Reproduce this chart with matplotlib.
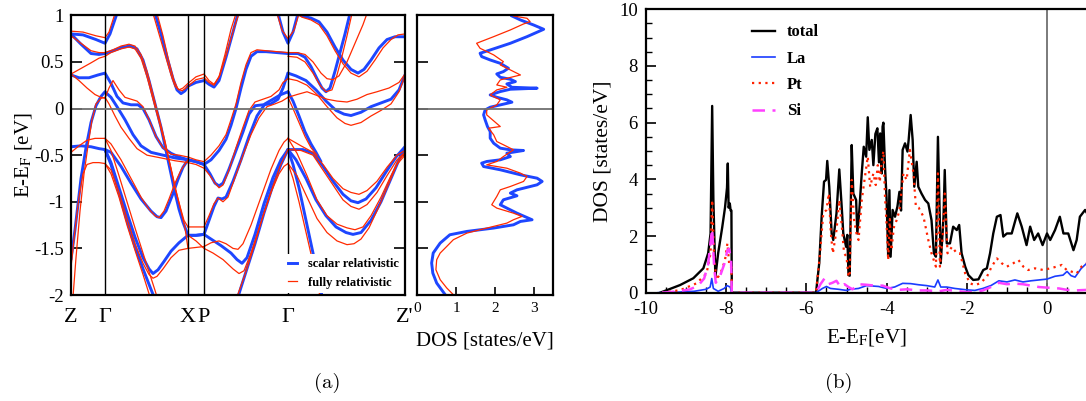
import numpy as np
import matplotlib.pyplot as plt
from matplotlib.lines import Line2D
from matplotlib.ticker import MultipleLocator

plt.rcParams['font.family'] = ['Liberation Serif', 'DejaVu Serif']
plt.rcParams['mathtext.fontset'] = 'stix'
plt.rcParams['axes.unicode_minus'] = False

BLUE = '#1e46ff'
RED = '#ff2a00'

# k-path (position along path) and labels
k_points = [0, 34, 117, 133, 217, 334]
k_labels = ['Z', 'Γ', 'X', 'P', 'Γ', "Z'"]

# scalar relativistic bands, (k, E)
sr_bands = [
    [(0, .80), (12, .79), (25, .74), (34, .70), (39, .80), (46, 1.02)],
    [(0, .80), (10, .69), (20, .59), (28, .58), (34, .59), (42, .62), (52, .66), (60, .67), (66, .64),
     (72, .52), (78, .30), (84, .05), (90, -.20), (95, -.45), (100, -.70), (104, -.90), (108, -1.08),
     (112, -1.22), (117, -1.36)],
    [(0, .36), (8, .33), (18, .33), (27, .36), (34, .38), (40, .27), (46, .13), (52, .06), (60, .04),
     (67, .04), (72, .0), (78, -.12), (85, -.30), (92, -.42), (100, -.48), (108, -.52), (117, -.55)],
    [(0, -1.62), (4, -1.30), (10, -.75), (15, -.42), (20, -.15), (25, .03), (30, .13), (34, .18),
     (40, .12), (46, .02), (54, -.12), (62, -.28), (70, -.40), (80, -.47), (92, -.50), (104, -.53),
     (117, -.55)],
    [(0, -.41), (10, -.40), (20, -.41), (28, -.43), (34, -.44), (40, -.47), (50, -.62), (60, -.80),
     (70, -.97), (80, -1.10), (86, -1.16), (90, -1.17), (95, -1.10), (101, -.94), (107, -.76),
     (112, -.63), (117, -.55)],
    [(34, -.44), (40, -.58), (48, -.85), (56, -1.12), (64, -1.38), (72, -1.60), (78, -1.72), (82, -1.77),
     (87, -1.73), (93, -1.64), (100, -1.53), (108, -1.44), (117, -1.36)],
    [(34, -.44), (40, -.60), (48, -.90), (56, -1.20), (64, -1.48), (72, -1.72), (80, -1.94), (83, -2.02)],
    [(84, 1.02), (90, .80), (96, .55), (102, .32), (106, .20), (110, .16), (114, .19), (117, .24),
     (125, .28), (133, .30), (138, .26), (143, .23), (148, .30), (155, .55), (162, .82), (167, 1.02)],
    [(117, -.55), (125, -.57), (133, -.60), (140, -.55), (148, -.45), (155, -.33), (160, -.18), (165, 0.0),
     (170, .22), (175, .42), (180, .56), (186, .61), (195, .61), (206, .60), (217, .59)],
    [(117, -.55), (125, -.57), (133, -.60), (139, -.70), (144, -.80), (148, -.83), (152, -.80), (158, -.65),
     (165, -.45), (172, -.25), (178, -.06), (184, .03), (192, .04), (200, .05), (207, .10), (212, .22),
     (217, .38)],
    [(117, -1.36), (125, -1.36), (133, -1.35), (138, -1.20), (143, -1.05), (147, -.96), (151, -.97),
     (155, -.95), (162, -.78), (170, -.55), (178, -.30), (186, -.08), (194, .05), (202, .10), (210, .15),
     (217, .18)],
    [(117, -1.36), (125, -1.36), (133, -1.35), (140, -1.40), (150, -1.47), (160, -1.55), (166, -1.62),
     (171, -1.66), (176, -1.60), (184, -1.35), (193, -1.02), (202, -.74), (210, -.55), (217, -.44)],
    [(167, -2.02), (175, -1.75), (184, -1.45), (193, -1.12), (202, -.82), (210, -.60), (217, -.44)],
    [(207, 1.02), (212, .82), (217, .70), (222, .82), (227, 1.02)],
    [(226, 1.02), (232, .99), (240, .97), (248, .93), (256, .82), (264, .66), (272, .52), (280, .42),
     (287, .38), (293, .42), (300, .52), (308, .65), (316, .74), (324, .77), (334, .77)],
    [(217, .59), (227, .59), (234, .55), (240, .45), (246, .32), (251, .22), (255, .18), (259, .22),
     (264, .40), (269, .60), (274, .80), (279, 1.02)],
    [(217, .38), (225, .35), (235, .30), (245, .20), (255, .08), (265, -.02), (273, -.06), (280, -.075),
     (290, -.04), (300, .02), (310, .06), (320, .10), (328, .20), (334, .36)],
    [(217, .18), (222, .08), (228, -.08), (234, -.25), (240, -.38), (245, -.47), (250, -.57)],
    [(217, -.44), (232, -.44), (242, -.48), (252, -.62), (262, -.78), (272, -.92), (280, -.99),
     (287, -1.01), (295, -.97), (305, -.85), (315, -.68), (325, -.52), (334, -.41)],
    [(217, -.44), (225, -.55), (235, -.75), (245, -.98), (255, -1.15), (265, -1.27), (275, -1.33),
     (282, -1.35), (290, -1.33), (300, -1.20), (310, -1.00), (320, -.75), (328, -.55), (334, -.42)],
    [(217, -.44), (222, -.60), (228, -.85), (234, -1.15), (240, -1.45), (245, -1.70), (250, -1.95),
     (251, -2.02)],
]

# fully relativistic bands, (k, E)
fr_bands = [
    [(0, .83), (12, .82), (25, .78), (34, .76), (38, .82), (44, 1.02)],
    [(0, .78), (10, .70), (20, .62), (28, .60), (34, .60), (42, .63), (50, .67), (58, .69), (64, .67),
     (70, .58), (76, .40), (82, .15), (88, -.10), (94, -.35), (99, -.60), (104, -.85), (109, -1.05),
     (113, -1.20), (117, -1.27)],
    [(0, .37), (10, .43), (20, .49), (28, .54), (34, .56), (40, .60), (50, .64), (58, .66), (64, .64),
     (70, .54), (76, .34), (82, .10), (88, -.14), (94, -.38), (100, -.64), (105, -.88), (110, -1.10),
     (114, -1.28), (117, -1.50)],
    [(0, .37), (8, .30), (16, .22), (24, .15), (30, .12), (34, .11), (38, .22), (42, .30), (48, .20),
     (54, .12), (60, .10), (66, .08), (72, .02), (78, -.12), (85, -.30), (92, -.42), (100, -.49),
     (108, -.50), (117, -.52)],
    [(2, -2.02), (5, -1.60), (9, -1.10), (13, -.70), (17, -.40), (21, -.12), (25, .05), (30, .11),
     (34, .12), (38, .05), (44, -.08), (50, -.20), (58, -.32), (66, -.43), (76, -.50), (90, -.53),
     (104, -.56), (117, -.58)],
    [(0, -.47), (8, -.40), (16, -.34), (24, -.32), (34, -.32), (40, -.38), (50, -.55), (60, -.75),
     (70, -.95), (78, -1.08), (84, -1.15), (88, -1.17), (93, -1.10), (98, -.97), (104, -.80),
     (110, -.66), (117, -.55)],
    [(0, -1.70), (4, -1.30), (8, -.95), (12, -.70), (16, -.60), (22, -.58), (28, -.58), (34, -.59),
     (40, -.66), (48, -.90), (56, -1.18), (64, -1.45), (72, -1.66), (78, -1.78), (82, -1.82),
     (86, -1.80), (92, -1.72), (100, -1.60), (108, -1.52), (117, -1.50)],
    [(34, -.59), (40, -.70), (48, -.95), (56, -1.25), (64, -1.52), (72, -1.78), (79, -2.02)],
    [(34, -.32), (40, -.45), (48, -.72), (56, -1.00), (64, -1.28), (72, -1.55), (78, -1.75),
     (84, -1.95), (86, -2.02)],
    [(82, 1.02), (88, .80), (94, .58), (100, .36), (104, .24), (108, .20), (112, .22), (117, .27),
     (125, .34), (133, .37), (138, .30), (143, .26), (148, .34), (154, .58), (160, .85), (165, 1.02)],
    [(86, 1.02), (92, .78), (98, .50), (103, .30), (107, .21), (111, .19), (115, .22), (117, .24),
     (125, .31), (133, .33), (138, .28), (143, .25), (149, .36), (156, .60), (163, .86), (168, 1.02)],
    [(117, -.52), (125, -.55), (133, -.57), (140, -.50), (148, -.40), (155, -.28), (160, -.12),
     (165, .05), (170, .28), (175, .47), (180, .60), (186, .63), (195, .62), (206, .61), (217, .60)],
    [(117, -.58), (125, -.60), (133, -.64), (139, -.72), (144, -.80), (148, -.85), (152, -.82),
     (158, -.66), (165, -.42), (172, -.20), (178, -.02), (184, .07), (192, .10), (200, .13),
     (208, .20), (212, .28), (217, .32)],
    [(117, -1.27), (125, -1.27), (133, -1.27), (138, -1.15), (143, -1.02), (147, -.96), (152, -1.00),
     (157, -.95), (164, -.74), (172, -.50), (180, -.28), (188, -.10), (196, .02), (204, .05),
     (211, .08), (217, .12)],
    [(117, -1.50), (125, -1.49), (133, -1.48), (140, -1.44), (148, -1.42), (155, -1.45), (162, -1.50),
     (167, -1.51), (172, -1.45), (180, -1.25), (190, -.95), (200, -.65), (208, -.45), (213, -.36),
     (217, -.32)],
    [(117, -1.36), (125, -1.42), (133, -1.50), (142, -1.55), (152, -1.62), (162, -1.72), (168, -1.77),
     (173, -1.74), (180, -1.55), (190, -1.22), (200, -.90), (208, -.70), (213, -.62), (217, -.59)],
    [(166, -2.02), (174, -1.78), (183, -1.48), (192, -1.15), (201, -.86), (209, -.62), (217, -.44)],
    [(206, 1.02), (211, .84), (217, .75), (223, .84), (228, 1.02)],
    [(225, 1.02), (231, .98), (240, .95), (248, .90), (256, .78), (264, .62), (272, .48), (280, .38),
     (288, .34), (296, .40), (304, .52), (312, .65), (320, .74), (327, .79), (334, .80)],
    [(217, .60), (226, .60), (234, .58), (242, .50), (250, .38), (256, .32), (262, .31), (268, .35),
     (276, .50), (284, .70), (292, .90), (296, 1.02)],
    [(217, .56), (226, .55), (234, .50), (242, .38), (249, .25), (255, .18), (261, .20), (266, .36),
     (271, .56), (276, .78), (281, 1.02)],
    [(217, .32), (226, .30), (236, .25), (246, .15), (256, .02), (266, -.10), (274, -.16), (280, -.18),
     (290, -.15), (300, -.08), (310, -.02), (320, .05), (328, .18), (334, .35)],
    [(217, .12), (226, .15), (236, .18), (246, .14), (256, .10), (266, .08), (276, .07), (286, .10),
     (296, .15), (306, .18), (318, .22), (328, .28), (334, .37)],
    [(217, .12), (222, .0), (228, -.15), (234, -.30), (240, -.42), (246, -.50)],
    [(217, -.32), (230, -.40), (242, -.47), (252, -.60), (262, -.75), (272, -.86), (280, -.90),
     (288, -.92), (296, -.88), (306, -.78), (316, -.63), (326, -.50), (334, -.45)],
    [(217, -.44), (230, -.45), (242, -.50), (252, -.66), (262, -.82), (272, -.98), (280, -1.05),
     (288, -1.08), (296, -1.03), (306, -.90), (316, -.72), (326, -.55), (334, -.47)],
    [(217, -.32), (226, -.48), (236, -.72), (246, -.98), (256, -1.15), (266, -1.24), (276, -1.28),
     (284, -1.30), (292, -1.27), (300, -1.15), (310, -.95), (320, -.72), (328, -.55), (334, -.48)],
    [(217, -.59), (226, -.72), (236, -.95), (246, -1.18), (256, -1.33), (266, -1.42), (276, -1.46),
     (283, -1.45), (290, -1.40), (298, -1.28), (308, -1.05), (318, -.80), (326, -.60), (334, -.50)],
    [(217, -.59), (222, -.75), (228, -1.00), (234, -1.28), (240, -1.56), (245, -1.80), (249, -2.02)],
]

# DOS next to the bands (energy, states/eV)
dos_sr_e = [.993, .950, .896, .850, .771, .700, .628, .593, .557, .521, .485, .432, .396, .371, .335,
            .314, .289, .264, .228, .218, .207, .182, .146, .121, .093, .068, .039, .014, -.015, -.068,
            -.122, -.193, -.247, -.318, -.372, -.425, -.443, -.450, -.479, -.515, -.550, -.568, -.586,
            -.622, -.657, -.711, -.747, -.782, -.818, -.872, -.907, -.936, -.979, -1.032, -1.068,
            -1.122, -1.193, -1.211, -1.247, -1.282, -1.318, -1.354, -1.443, -1.550, -1.657, -1.765,
            -1.872, -1.997]
dos_sr = [2.44, 2.66, 3.0, 3.26, 2.83, 2.40, 1.88, 1.62, 1.66, 1.88, 2.14, 2.35, 2.22, 2.05, 2.14,
          2.40, 2.53, 2.31, 2.44, 3.09, 2.40, 2.14, 1.88, 2.05, 2.31, 2.44, 2.14, 1.88, 1.75, 1.71,
          1.75, 1.81, 1.88, 1.88, 1.97, 2.14, 2.40, 2.74, 2.31, 2.40, 2.14, 1.79, 1.66,
          1.71, 2.14, 2.66, 3.09, 3.22, 3.09, 2.57, 2.40, 2.57, 2.22, 2.14, 2.31,
          2.57, 2.96, 2.66, 2.48, 1.97, 1.28, 0.84, 0.59, 0.41, 0.37, 0.40,
          0.50, 0.72]
dos_fr_e = [.993, .968, .932, .907, .843, .771, .700, .646, .575, .503, .468, .414, .360, .307, .253,
            .228, .200, .146, .093, .039, -.015, -.068, -.193, -.211, -.282, -.354, -.407, -.443,
            -.515, -.568, -.604, -.640, -.693, -.729, -.782, -.836, -.872, -.943, -1.032, -1.068,
            -1.122, -1.157, -1.193, -1.229, -1.300, -1.336, -1.407, -1.479, -1.550, -1.622, -1.729,
            -1.836, -1.925, -1.997]
dos_fr = [2.48, 2.83, 2.91, 2.74, 2.40, 1.97, 1.53, 1.62, 1.97, 2.22, 2.14, 2.40, 2.66, 2.14, 2.05,
          2.31, 2.05, 1.88, 2.14, 2.05, 1.79, 1.79, 2.14, 1.84, 1.97, 2.05, 2.31, 2.48,
          2.22, 2.05, 1.79, 2.31, 2.66, 2.83, 2.74, 2.40, 2.14, 2.05, 1.92, 2.05,
          2.48, 2.70, 2.48, 2.31, 1.62, 1.28, 0.93, 0.76, 0.59, 0.50, 0.48,
          0.59, 0.76, 0.93]

# panel (b): partial DOS
tot_e = [-9.65, -9.48, -9.15, -8.82, -8.57, -8.45, -8.39, -8.35, -8.32, -8.27, -8.2, -8.1, -8.03, -7.98,
         -7.96, -7.94, -7.91, -7.89, -7.87, -7.86, -5.76, -5.68, -5.62, -5.56, -5.51, -5.48, -5.43,
         -5.37, -5.33, -5.25, -5.18, -5.12, -5.08, -5.01, -4.98, -4.95, -4.92, -4.87, -4.83, -4.76,
         -4.73, -4.68, -4.62, -4.57, -4.51, -4.47, -4.43, -4.37, -4.33, -4.28, -4.23, -4.19, -4.16,
         -4.12, -4.10, -4.08, -4.04, -4.0, -3.96, -3.93, -3.90, -3.85, -3.79, -3.73, -3.68, -3.64,
         -3.60, -3.54, -3.48, -3.45, -3.40, -3.35, -3.31, -3.25, -3.21, -3.13, -3.04, -2.96, -2.88,
         -2.82, -2.77, -2.72, -2.68, -2.65, -2.58, -2.55, -2.50, -2.42, -2.34, -2.25, -2.19, -2.13,
         -2.04, -1.96, -1.84, -1.71, -1.59, -1.50, -1.42, -1.34, -1.25, -1.16, -1.09, -1.0, -0.88,
         -0.80, -0.74, -0.63, -0.51, -0.42, -0.32, -0.22, -0.11, 0.0, 0.08, 0.20, 0.32, 0.41, 0.53,
         0.66, 0.74, 0.82, 0.95, 1.0]
tot_v = [0, .09, .27, .51, .86, 1.39, 2.09, 6.59, 3.3, .56, 1.4, 2.3, 3.0, 3.7,
         4.56, 3.0, 3.15, 2.9, 2.9, 0, 0, 1.04, 2.68, 3.92, 3.98, 4.65, 3.74,
         2.09, 1.86, 2.8, 4.35, 3.04, 2.09, 1.62, 2.04, .62, .6, 5.21, 3.5, 3.27,
         2.09, 2.9, 4.21, 5.15, 4.8, 6.19, 5.04, 5.39, 4.5, 5.6, 5.8, 4.6, 5.62,
         4.21, 5.86, 6.0, 4.45, 3.3, 1.27, 3.62, 1.27, 2.92, 2.68, 3.04, 3.56, 2.9,
         5.04, 5.27, 4.98, 5.39, 6.27, 5.39, 3.74, 4.62, 3.74, 3.5, 3.27, 3.15, 2.56,
         1.39, 1.27, 5.5, 3.04, 1.04, 2.68, 4.33, 1.74, 1.74, 2.33, 2.21, 2.39, 1.39,
         .92, .62, .45, .47, .8, .86, 1.39, 2.09, 2.68, 2.74, 1.98, 2.09, 2.09,
         2.5, 2.8, 2.33, 1.68, 2.33, 1.86, 2.09, 1.68, 2.09, 1.86, 2.21, 2.68, 2.09, 2.09,
         1.5, 1.86, 2.68, 2.92, 2.8]
la_e = [-9.7, -9.2, -8.8, -8.5, -8.4, -8.36, -8.32, -8.2, -8.05, -7.98, -7.9, -7.86, -5.76, -5.6, -5.5,
        -5.4, -5.2, -5.0, -4.9, -4.7, -4.5, -4.2, -4.0, -3.8, -3.6, -3.4, -3.2, -3.0, -2.8, -2.72, -2.65,
        -2.5, -2.3, -2.0, -1.8, -1.6, -1.4, -1.2, -1.0, -0.8, -0.6, -0.4, -0.2, 0.0, 0.2, 0.4, 0.5, 0.6,
        0.7, 0.85, 1.0]
la_v = [0, .02, .05, .12, .2, .5, .15, .05, .15, .25, .2, 0, 0, .15, .22,
        .15, .12, .08, .12, .15, .25, .22, .15, .2, .33, .32, .28, .25, .2, .45, .2,
        .2, .15, .1, .08, .15, .25, .42, .38, .45, .38, .42, .45, .48, .58, .62, .75, .6,
        .55, .85, 1.05]
pt_e = [-9.6, -9.15, -8.74, -8.49, -8.39, -8.35, -8.3, -8.24, -8.11, -8.03, -7.97, -7.92, -7.87, -7.86,
        -5.76, -5.66, -5.58, -5.5, -5.44, -5.39, -5.34, -5.25, -5.18, -5.12, -5.06, -5.0, -4.95, -4.92,
        -4.87, -4.81, -4.75, -4.7, -4.62, -4.54, -4.47, -4.41, -4.33, -4.27, -4.22, -4.17, -4.12, -4.08,
        -4.04, -4.0, -3.96, -3.92, -3.88, -3.82, -3.75, -3.68, -3.58, -3.5, -3.42, -3.33, -3.27, -3.2,
        -3.08, -2.96, -2.88, -2.77, -2.72, -2.67, -2.6, -2.55, -2.48, -2.37, -2.25, -2.17, -2.04, -1.92,
        -1.8, -1.67, -1.5, -1.38, -1.25, -1.13, -1.0, -0.84, -0.71, -0.59, -0.47, -0.3, -0.09, 0.08,
        0.24, 0.37, 0.49, 0.62, 0.74, 0.86, 0.97]
pt_v = [0, .09, .33, .68, 1.39, 3.27, 1.15, .45, .8, 1.15, 1.74, .92, .9, 0,
        0, 1.39, 2.8, 2.92, 3.5, 2.09, 1.39, 2.2, 3.27, 2.4, 1.39, 1.27, .56, .6,
        3.98, 2.56, 2.09, 1.86, 3.27, 4.09, 4.8, 3.74, 4.21, 3.8, 4.5, 3.9, 4.68, 5.0,
        3.4, 2.4, 1.15, 2.6, 1.5, 2.3, 2.56, 2.9, 4.21, 3.98, 5.04, 4.21, 3.04, 3.0,
        2.68, 1.86, 1.39, .92, 4.21, .92, 2.0, 3.5, 1.39, 1.62, 1.39, 1.39, .68, .33,
        .27, .33, .56, .92, 1.21, 1.04, .92, 1.04, 1.15, .92, .8, .86, .8, .86,
        .92, .98, .8, .74, .68, .92, 1.04]
si_e = [-9.6, -9.2, -8.9, -8.7, -8.55, -8.45, -8.38, -8.35, -8.3, -8.26, -8.15, -8.05, -7.97, -7.93,
        -7.88, -7.86, -5.76, -5.65, -5.55, -5.45, -5.35, -5.25, -5.15, -5.05, -4.95, -4.85, -4.7, -4.5,
        -4.3, -4.1, -3.9, -3.7, -3.5, -3.2, -3.0, -2.7, -2.5, -2.2, -2.0, -1.8, -1.6, -1.4, -1.2, -1.0,
        -0.8, -0.6, -0.4, -0.2, 0.0, 0.3, 0.5, 0.7, 1.0]
si_v = [0, .05, .12, .25, .5, 1.0, 1.9, 2.25, .9, .35, .6, 1.0, 1.5, 1.55,
        1.2, 0, 0, .3, .5, .3, .35, .42, .2, .3, .2, .12, .3, .28,
        .25, .25, .15, .1, .12, .08, .08, .05, .1, .05, .02, .03, .08, .2, .35, .3,
        .32, .3, .25, .2, .18, .15, .1, .08, .1]


def main():
    W, H = 1086, 401
    fig = plt.figure(figsize=(W / 100, H / 100), dpi=100)

    def box(l, r, t, b):
        return [l / W, (H - b) / H, (r - l) / W, (b - t) / H]

    # ---- (a) band structure
    ax1 = fig.add_axes(box(71, 405, 15.3, 295))
    for band in sr_bands:
        k, e = zip(*band)
        ax1.plot(k, e, color=BLUE, lw=2.1, solid_capstyle='round', solid_joinstyle='round')
    for band in fr_bands:
        k, e = zip(*band)
        ax1.plot(k, e, color=RED, lw=0.9, solid_joinstyle='round')
    for kp in k_points[1:-1]:
        ax1.axvline(kp, color='black', lw=1.0)
    ax1.axhline(0, color='#707070', lw=1.3)
    ax1.set_xlim(0, 334)
    ax1.set_ylim(-2, 1)
    yt = np.arange(-2, 1.01, 0.5)
    ax1.set_yticks(yt)
    ax1.set_yticklabels([f'{t:g}' for t in yt])
    ax1.set_xticks(k_points)
    ax1.set_xticklabels(k_labels)
    ax1.tick_params(axis='y', direction='in', length=8, width=1.2, left=True, right=True,
                    labelsize=13.5, pad=5)
    ax1.tick_params(axis='x', length=0, labelsize=16, pad=9)
    ax1.set_ylabel(r'E-E$_\mathrm{F}$ [eV]', fontsize=15)
    ax1.yaxis.set_label_coords(-0.11, 0.5)
    for s in ax1.spines.values():
        s.set_linewidth(1.6)
    handles = [Line2D([], [], color=BLUE, lw=2.1), Line2D([], [], color=RED, lw=0.9)]
    ax1.legend(handles, ['scalar relativistic', 'fully relativistic'], loc='lower right',
               prop={'weight': 'bold', 'size': 9}, handlelength=0.7, handletextpad=0.9,
               labelspacing=0.55, borderpad=0.3, borderaxespad=0.2, frameon=True,
               facecolor='white', edgecolor='none', framealpha=1, fancybox=False)

    # ---- (a) DOS
    ax2 = fig.add_axes(box(417.3, 553, 15.3, 295))
    ax2.plot(dos_sr, dos_sr_e, color=BLUE, lw=2.1, solid_joinstyle='round')
    ax2.plot(dos_fr, dos_fr_e, color=RED, lw=0.9)
    ax2.axhline(0, color='#707070', lw=1.3)
    ax2.set_xlim(0, 3.5)
    ax2.set_ylim(-2, 1)
    ax2.set_yticks(yt)
    ax2.set_yticklabels([])
    ax2.set_xticks([0, 1, 2, 3])
    ax2.tick_params(axis='y', direction='in', length=8, width=1.2)
    ax2.tick_params(axis='x', direction='in', length=6, width=1.2, labelsize=11, pad=5)
    ax2.set_xlabel('DOS [states/eV]', fontsize=15)
    ax2.xaxis.set_label_coords(0.5, -0.13)
    for s in ax2.spines.values():
        s.set_linewidth(1.6)

    # ---- (b) partial DOS
    ax3 = fig.add_axes(box(646, 1087.1, 9.3, 292.7))
    ax3.axvline(0, color='#707070', lw=1.3)
    ax3.plot(tot_e, tot_v, color='black', lw=1.7, label='total')
    ax3.plot(la_e, la_v, color='#1a3cff', lw=1.2, label='La')
    ax3.plot(pt_e, pt_v, color='#ff2200', lw=1.6, ls=(0, (1, 2)), label='Pt')
    ax3.plot(si_e, si_v, color='#ff40ff', lw=1.8, ls=(0, (5, 3)), label='Si')
    ax3.set_xlim(-10, 1)
    ax3.set_ylim(0, 10)
    ax3.xaxis.set_major_locator(MultipleLocator(2))
    ax3.xaxis.set_minor_locator(MultipleLocator(0.5))
    ax3.yaxis.set_major_locator(MultipleLocator(2))
    ax3.yaxis.set_minor_locator(MultipleLocator(0.5))
    ax3.tick_params(which='major', direction='in', length=7, width=1.2, labelsize=13.5, pad=6)
    ax3.tick_params(which='minor', direction='in', length=4, width=1.0)
    ax3.set_xlabel(r'E-E$_\mathrm{F}$[eV]', fontsize=15)
    ax3.xaxis.set_label_coords(0.5, -0.12)
    ax3.set_ylabel('DOS [states/eV]', fontsize=15.5)
    ax3.yaxis.set_label_coords(-0.077, 0.5)
    for s in ax3.spines.values():
        s.set_linewidth(1.6)
    ax3.legend(loc='upper left', bbox_to_anchor=(0.225, 0.97), frameon=False,
               prop={'weight': 'bold', 'size': 12}, handlelength=1.4, handletextpad=0.7,
               labelspacing=0.62, borderaxespad=0)

    fig.text(327 / W, 1 - 383 / H, '(a)', family='cmr10', fontsize=15, ha='center', va='center')
    fig.text(839 / W, 1 - 383 / H, '(b)', family='cmr10', fontsize=15, ha='center', va='center')

    fig.savefig('out.png', dpi=100)


if __name__ == '__main__':
    main()
